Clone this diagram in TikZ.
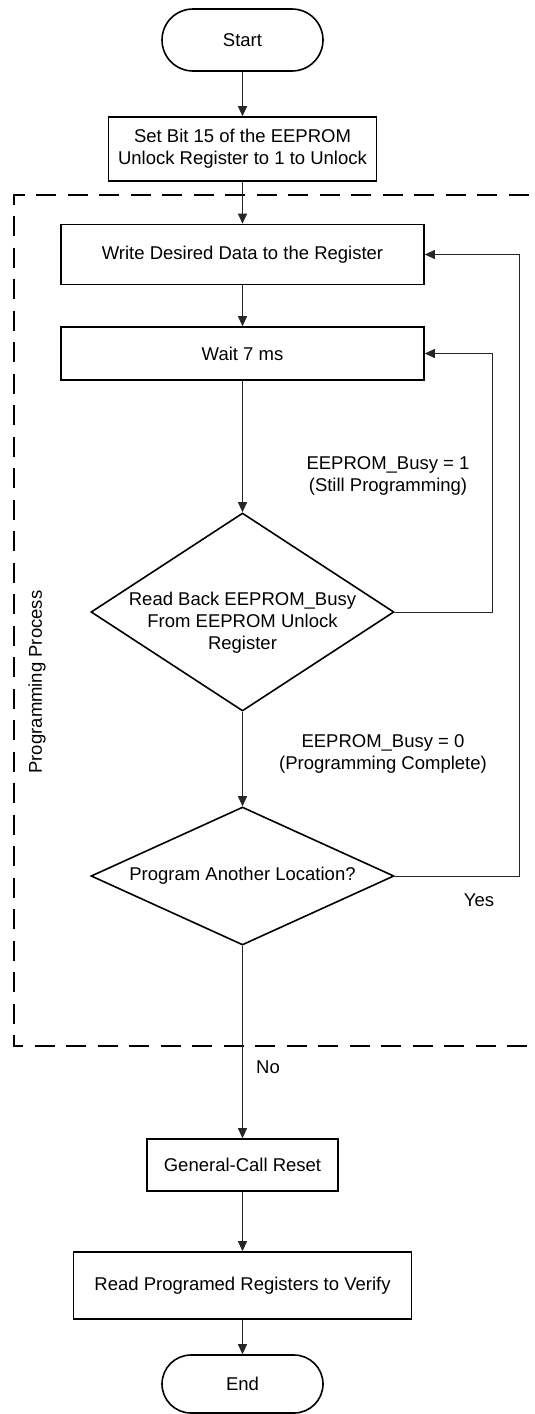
\documentclass[tikz,border=0pt]{standalone}
\usepackage{fontspec}
\setmainfont{Liberation Sans}
\usetikzlibrary{arrows.meta,shapes.geometric,calc}
\begin{document}
\begin{tikzpicture}[x=1pt,y=-1pt,
  font=\fontsize{18.5}{22}\selectfont,
  box/.style={draw,line width=1.6pt,inner sep=0pt,align=center},
  term/.style={box,minimum width=161pt,minimum height=62pt,rounded corners=31pt},
  dec/.style={draw,line width=1.6pt,diamond,inner sep=0pt,minimum width=303pt},
  conn/.style={line width=0.9pt,draw=black!85,-{Triangle[length=10pt,width=9pt]}},
  txt/.style={inner sep=0pt,align=center}]
\useasboundingbox (0,0) rectangle (535,1414);
\begin{scope}
\clip (0,0) rectangle (535,1414);
\draw[line width=2.5pt,dash pattern=on 20pt off 11.5pt] (560,195) -- (14,195) -- (14,1046) -- (560,1046);
\end{scope}
\node[txt,rotate=90] (pp) at (37,682) {Programming Process};

\node[term] (start) at (242.5,40) {Start};
\node[box,minimum width=268pt,minimum height=64pt] (unlock) at (242.5,149) {Set Bit 15 of the EEPROM\\Unlock Register to 1 to Unlock};
\node[box,minimum width=363pt,minimum height=60pt] (write) at (242.5,254.5) {Write Desired Data to the Register};
\node[box,minimum width=363pt,minimum height=53pt] (wait) at (242.5,353.5) {Wait 7 ms};
\node[dec,minimum height=198pt,aspect=1.53] (d1) at (242.5,612) {};
\node[txt] (d1t) at (242.5,623) {Read Back EEPROM\_Busy\\From EEPROM Unlock\\Register};
\node[dec,minimum height=138pt,aspect=2.2] (d2) at (242.5,876) {};
\node[txt] (d2t) at (242.5,876) {Program Another Location?};
\node[box,minimum width=191pt,minimum height=52pt] (gcr) at (242.5,1165) {General-Call Reset};
\node[box,minimum width=338pt,minimum height=67pt] (rpr) at (242.5,1285.5) {Read Programed Registers to Verify};
\node[term,minimum height=58pt,rounded corners=29pt] (end) at (242.5,1384) {End};

\node[txt] (l1) at (388,476) {EEPROM\_Busy = 1\\(Still Programming)};
\node[txt] (l0) at (383,754) {EEPROM\_Busy = 0\\(Programming Complete)};
\node[txt] (yes) at (479,900) {Yes};
\node[txt] (no) at (268,1067) {No};

\draw[conn] (start) -- (unlock);
\draw[conn] (unlock) -- (write);
\draw[conn] (write) -- (wait);
\draw[conn] (wait) -- (d1);
\draw[conn] (d1) -- (d2);
\draw[conn] (d2) -- (gcr);
\draw[conn] (gcr) -- (rpr);
\draw[conn] (rpr) -- (end);
\draw[conn] (d1.east) -- (492,612) |- (wait.east);
\draw[conn] (d2.east) -- (519,876) |- (write.east);
\end{tikzpicture}
\end{document}
